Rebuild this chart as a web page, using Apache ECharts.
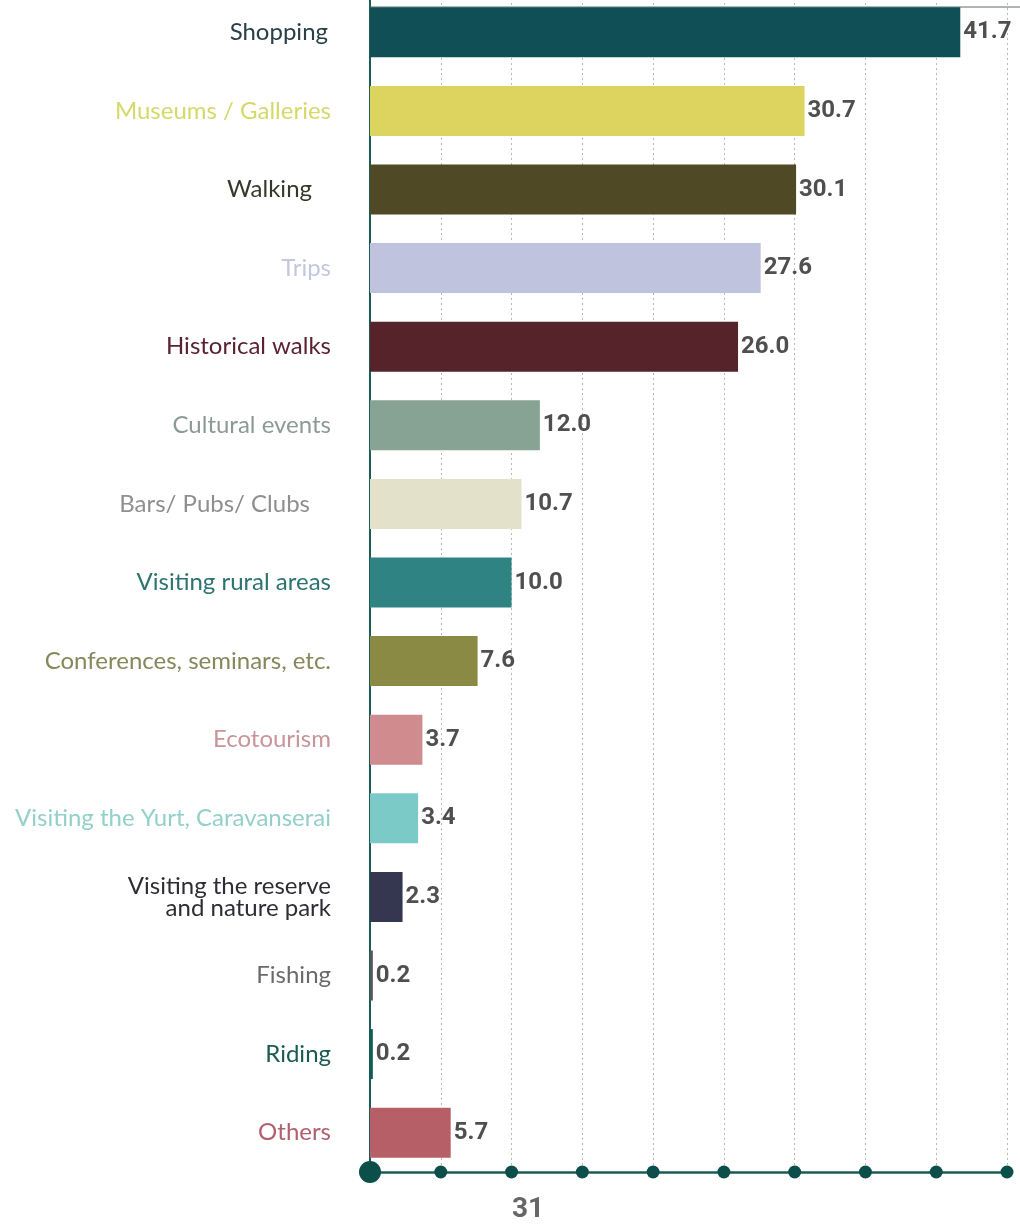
<!DOCTYPE html>
<html>
<head>
<meta charset="utf-8">
<title>Tourist activities</title>
<script src="https://cdn.jsdelivr.net/npm/echarts@6/dist/echarts.min.js"></script>
<style>
  html, body { margin: 0; padding: 0; background: #ffffff; }
  #chart { width: 1020px; height: 1224px; }
</style>
</head>
<body>
<div id="chart"></div>
<script>
// Activities (top to bottom) and their shares, %
const categories = [
  'Shopping', 'Museums / Galleries', 'Walking', 'Trips', 'Historical walks',
  'Cultural events', 'Bars/ Pubs/ Clubs', 'Visiting rural areas',
  'Conferences, seminars, etc.', 'Ecotourism', 'Visiting the Yurt, Caravanserai',
  'Visiting the reserve\nand nature park', 'Fishing', 'Riding', 'Others'
];
const values = [41.7, 30.7, 30.1, 27.6, 26.0, 12.0, 10.7, 10.0, 7.6, 3.7, 3.4, 2.3, 0.2, 0.2, 5.7];
const xTicks = [0, 5, 10, 15, 20, 25, 30, 35, 40, 45];
const pageNumber = '31';

// Palette: one bar colour and one label colour per activity
const barColors = [
  '#104f55', '#ddd35f', '#4f4a25', '#c0c3de', '#57232a',
  '#86a394', '#e4e1ca', '#2f8383', '#8b8a45', '#cf8b8e',
  '#7ccac8', '#35364f', '#55565a', '#0f5a55', '#b65f67'
];
const labelColors = [
  '#2b4046', '#d5d96a', '#38382a', '#c4c7e0', '#5a2232',
  '#8c9a96', '#8f8f8f', '#2c7470', '#86875a', '#c8959a',
  '#92d0c9', '#2d2d36', '#6a6a6a', '#1b5a50', '#b0606f'
];
// a few labels sit a little further from the axis
const labelExtraGap = { 'Shopping': 3, 'Walking': 19, 'Bars/ Pubs/ Clubs': 21 };

const axisColor = '#1c5c56';

const chart = echarts.init(document.getElementById('chart'));

chart.setOption({
  animation: false,
  backgroundColor: '#ffffff',
  grid: {
    left: 370, right: 13, top: -7, bottom: 52,
    containLabel: false,
    outerBoundsMode: 'none'
  },
  xAxis: {
    type: 'value',
    min: 0,
    max: 45,
    interval: 5,
    axisLine: { show: true, lineStyle: { color: axisColor, width: 2.5 } },
    axisTick: { show: false },
    axisLabel: { show: false },
    splitLine: { show: true, lineStyle: { color: '#b8b8b8', width: 1, type: [2, 3] } }
  },
  yAxis: [
    {
      type: 'category',
      inverse: true,
      data: categories.map((name, i) => ({
        value: name,
        textStyle: {
          color: labelColors[i],
          // bottom padding lifts the labels slightly above the bar centre
          padding: [0, labelExtraGap[name] || 0, 6, 0]
        }
      })),
      axisLine: { show: true, lineStyle: { color: axisColor, width: 2 } },
      axisTick: { show: false },
      axisLabel: {
        margin: 39,
        fontFamily: 'Lato',
        fontSize: 24,
        lineHeight: 22,
        align: 'right'
      },
      splitLine: { show: false }
    },
    {
      type: 'value',
      min: 0,
      max: 1,
      show: false
    }
  ],
  series: [
    {
      type: 'bar',
      data: values.map((v, i) => ({ value: v, itemStyle: { color: barColors[i] } })),
      barWidth: 50,
      label: {
        show: true,
        position: 'right',
        distance: 3,
        formatter: p => p.value.toFixed(1),
        color: '#4f4f4f',
        fontFamily: 'Roboto',
        fontWeight: 'bold',
        fontSize: 24
      },
      z: 3
    },
    {
      // tick markers along the value axis
      type: 'scatter',
      yAxisIndex: 1,
      data: xTicks.map(t => [t, 0]),
      symbol: 'circle',
      symbolSize: v => (v[0] === 0 ? 22 : 13),
      itemStyle: { color: '#0c4f4a', opacity: 1 },
      clip: false,
      silent: true,
      z: 5
    }
  ],
  graphic: [
    {
      type: 'line',
      z: 1,
      shape: { x1: 370, y1: 7, x2: 1020, y2: 7 },
      style: { stroke: '#5b6b6a', lineWidth: 1 }
    },
    {
      type: 'text',
      left: 512,
      top: 1196,
      style: {
        text: pageNumber,
        fill: '#666666',
        font: 'bold 28px "Liberation Sans Narrow", "Roboto", sans-serif'
      }
    }
  ]
});
</script>
</body>
</html>
